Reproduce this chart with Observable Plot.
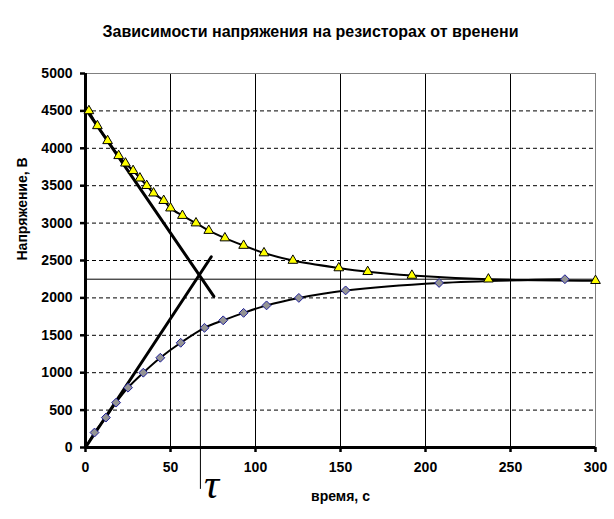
<!DOCTYPE html>
<html>
<head>
<meta charset="utf-8">
<script src="https://cdn.jsdelivr.net/npm/d3@7"></script>
<script src="https://cdn.jsdelivr.net/npm/@observablehq/plot@0.6"></script>
<style>
  html, body { margin: 0; padding: 0; background: #fff; }
  #chart svg { display: block; }
</style>
</head>
<body>
<div id="chart"></div>
<script>
// --- data ---
const titleText = "Зависимости напряжения на резисторах от вренени";
const xLabel = "время, с";
const yLabel = "Напряжение, В";

// discharging resistor (yellow triangles)
const timeU1 = [2, 7, 13, 19.5, 23.5, 28, 32, 36, 40, 46, 50, 57, 65, 72.5, 82, 93, 105, 122, 149, 166, 192, 237, 300];
const voltU1 = [4500, 4300, 4100, 3900, 3800, 3700, 3600, 3500, 3400, 3300, 3200, 3100, 3000, 2900, 2800, 2700, 2600, 2500, 2400, 2350, 2300, 2250, 2230];

// charging resistor (grey diamonds)
const timeU2 = [0, 5.3, 12, 18, 25, 34, 44, 56, 70, 81, 93, 106.5, 125.5, 153, 208, 282];
const voltU2 = [0, 200, 400, 600, 800, 1000, 1200, 1400, 1600, 1700, 1800, 1900, 2000, 2100, 2200, 2250];

// tangent lines
const tangentDownT = [0, 75.5];
const tangentDownV = [4530, 2020];
const tangentUpT = [0, 74];
const tangentUpV = [0, 2550];

const asymptote = 2250;
const tau = 67.6;
const tauTop = 2300;
const tauBottom = -560;

const xTicks = [0, 50, 100, 150, 200, 250, 300];
const yTicks = d3.range(0, 5001, 500);
const xGrid = [50, 100, 150, 200, 250];
const yGrid = d3.range(500, 4501, 500);

// --- build tables ---
const u1 = timeU1.map((t, i) => ({t, v: voltU1[i]}));
const u2 = timeU2.map((t, i) => ({t, v: voltU2[i]}));
const tDown = tangentDownT.map((t, i) => ({t, v: tangentDownV[i]}));
const tUp = tangentUpT.map((t, i) => ({t, v: tangentUpV[i]}));

const font = "'Liberation Sans', Arial, sans-serif";

const chart = Plot.plot({
  width: 614,
  height: 519,
  marginLeft: 85,
  marginRight: 19,
  marginTop: 73,
  marginBottom: 72,
  style: {fontFamily: font, background: "#fff", color: "#000"},
  x: {domain: [0, 300], axis: null, label: null},
  y: {domain: [0, 5000], axis: null, label: null},
  marks: [
    // grid
    Plot.ruleY(yGrid, {stroke: "#000", strokeWidth: 1, strokeDasharray: "4,3"}),
    Plot.ruleX(xGrid, {stroke: "#000", strokeWidth: 1}),
    Plot.ruleY([5000], {stroke: "#808080", strokeWidth: 1}),
    Plot.ruleX([300], {stroke: "#808080", strokeWidth: 1}),
    // asymptote
    Plot.ruleY([asymptote], {stroke: "#000", strokeWidth: 1}),
    // tau marker line
    Plot.ruleX([tau], {y1: tauTop, y2: tauBottom, stroke: "#000", strokeWidth: 1}),
    // tangents
    Plot.line(tDown, {x: "t", y: "v", stroke: "#000", strokeWidth: 3}),
    Plot.line(tUp, {x: "t", y: "v", stroke: "#000", strokeWidth: 3}),
    // curves
    Plot.line(u1, {x: "t", y: "v", curve: "catmull-rom", stroke: "#000", strokeWidth: 2}),
    Plot.line(u2, {x: "t", y: "v", curve: "catmull-rom", stroke: "#000", strokeWidth: 2}),
    // axes lines
    Plot.ruleX([0], {stroke: "#000", strokeWidth: 3}),
    Plot.ruleY([0], {stroke: "#000", strokeWidth: 3}),
    Plot.axisY({ticks: yTicks, label: null, tickSize: 5, tickPadding: 8, strokeWidth: 2.5, fontSize: 14, fontWeight: "bold", tickFormat: d => String(d)}),
    Plot.axisX({ticks: xTicks, label: null, tickSize: 5, tickPadding: 10, strokeWidth: 2.5, fontSize: 14, fontWeight: "bold", tickFormat: d => String(d)}),
    // markers
    Plot.dot(u2.filter(d => d.v > 0), {x: "t", y: "v", symbol: "diamond2", r: 4, fill: "#949494", stroke: "#1f1f99", strokeWidth: 1}),
    Plot.dot(u1, {x: "t", y: "v", symbol: "triangle", r: 3.6, fill: "#ffff00", stroke: "#000", strokeWidth: 1}),
    // texts
    Plot.text([titleText], {frameAnchor: "top", dx: -30, dy: -48, fontSize: 16, fontWeight: "bold", fill: "#000"}),
    Plot.text([xLabel], {frameAnchor: "bottom", dy: 53, fontSize: 14, fontWeight: "bold", fill: "#000"}),
    Plot.text([yLabel], {frameAnchor: "left", dx: -63, rotate: -90, fontSize: 14, fontWeight: "bold", fill: "#000"}),
    Plot.text(["τ"], {x: [tau], y: [0], dx: 11, dy: 37, fontSize: 42, fontStyle: "italic", fontFamily: "'Liberation Serif', 'DejaVu Serif', serif", fill: "#000"})
  ]
});

document.getElementById("chart").appendChild(chart);
</script>
</body>
</html>
